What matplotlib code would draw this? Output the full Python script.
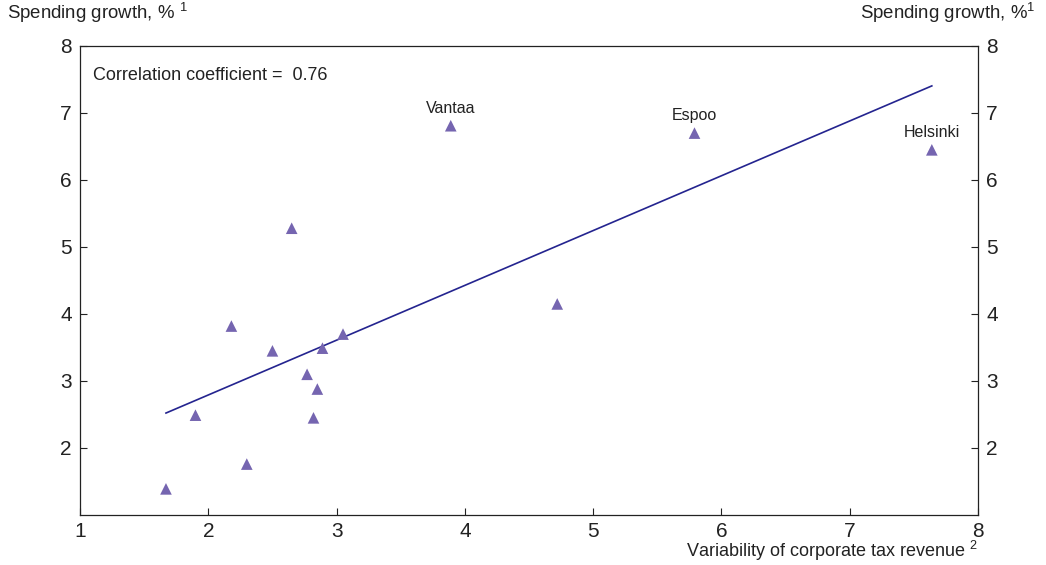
import numpy as np
import matplotlib
matplotlib.use('Agg')
import matplotlib.pyplot as plt

plt.rcParams['font.family'] = ['Liberation Sans', 'DejaVu Sans']
plt.rcParams['mathtext.fontset'] = 'custom'
plt.rcParams['mathtext.rm'] = 'Liberation Sans'
plt.rcParams['mathtext.it'] = 'Liberation Sans'

# municipalities: variability of corporate tax revenue vs spending growth
tax_variability = [1.67, 1.90, 2.18, 2.30, 2.50, 2.65, 2.77, 2.82, 2.85, 2.89,
                   3.05, 3.89, 4.72, 5.79, 7.64]
spending_growth = [1.39, 2.49, 3.82, 1.76, 3.45, 5.28, 3.10, 2.45, 2.88, 3.49,
                   3.70, 6.81, 4.15, 6.70, 6.45]
named = {'Vantaa': (3.89, 6.81), 'Espoo': (5.79, 6.70), 'Helsinki': (7.64, 6.45)}

x = np.array(tax_variability)
y = np.array(spending_growth)
slope, intercept = np.polyfit(x, y, 1)

fig = plt.figure(figsize=(10.46, 5.65), dpi=100)
ax = fig.add_axes([0.0765, 0.0885, 0.8585, 0.8301])

xs = np.array([x.min(), x.max()])
ax.plot(xs, intercept + slope * xs, color='#24248f', lw=1.2, zorder=2)
ax.scatter(x, y, marker='^', s=70, color='#7565b0', edgecolors='none', zorder=3)

for name, (px, py) in named.items():
    ax.annotate(name, (px, py), xytext=(0, 7), textcoords='offset points',
                ha='center', va='bottom', fontsize=11.5, color='#222222')

ax.text(0.015, 0.955, 'Correlation coefficient =  0.76', transform=ax.transAxes,
        ha='left', va='top', fontsize=13, color='#222222')

ax.set_xlim(1, 8)
ax.set_ylim(1, 8)
ax.set_xticks(range(1, 9))
ax.set_yticks(range(2, 9))
ax.tick_params(axis='both', direction='in', length=5, width=0.8, labelsize=15,
               colors='#222222', pad=6)
ax.tick_params(axis='y', right=True, labelright=True)
ax.tick_params(axis='x', pad=5)
for sp in ax.spines.values():
    sp.set_linewidth(0.9)
    sp.set_color('#222222')

fig.text(0.007, 0.955, 'Spending growth, % $^{1}$', ha='left', va='bottom',
         fontsize=13.4, color='#222222')
fig.text(0.99, 0.955, 'Spending growth, %$^{1}$', ha='right', va='bottom',
         fontsize=13.4, color='#222222')
fig.text(0.935, 0.003, 'Variability of corporate tax revenue $^{2}$', ha='right',
         va='bottom', fontsize=13, color='#222222')

fig.savefig('out.png', dpi=100)
